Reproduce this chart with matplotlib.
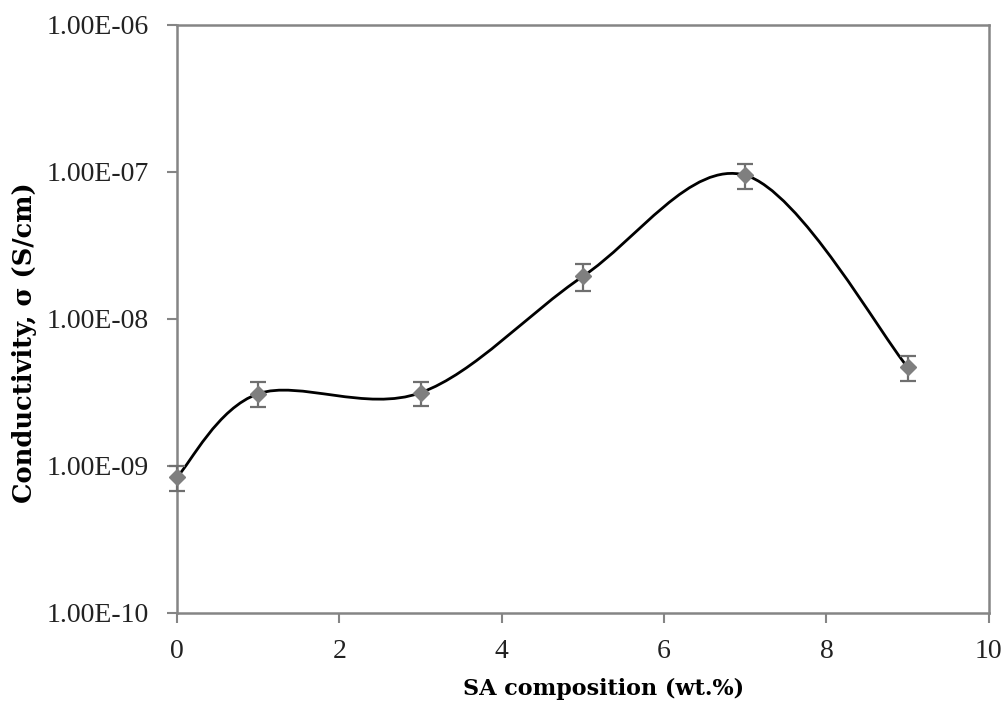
import numpy as np
import matplotlib.pyplot as plt
from matplotlib.path import Path
from matplotlib.patches import PathPatch
from matplotlib.ticker import FixedLocator, FuncFormatter

# data
sa_wt = [0, 1, 3, 5, 7, 9]
sigma = [8.4e-10, 3.1e-9, 3.15e-9, 1.95e-8, 9.5e-8, 4.7e-9]
sigma_err = [1.6e-10, 0.6e-9, 0.6e-9, 4.0e-9, 1.8e-8, 0.9e-9]

x_ticks = [0, 2, 4, 6, 8, 10]
y_ticks = [1e-10, 1e-9, 1e-8, 1e-7, 1e-6]

plt.rcParams['font.family'] = ['Liberation Serif', 'DejaVu Serif']


def smooth_path(xs, ys):
    """Excel-style smoothed line: Catmull-Rom Bezier built in (x, log y)."""
    lx = np.array(xs, dtype=float)
    ly = np.log10(np.array(ys, dtype=float))
    n = len(lx)
    verts = [(lx[0], ly[0])]
    codes = [Path.MOVETO]
    for i in range(n - 1):
        p0 = np.array([lx[max(i - 1, 0)], ly[max(i - 1, 0)]])
        p1 = np.array([lx[i], ly[i]])
        p2 = np.array([lx[i + 1], ly[i + 1]])
        p3 = np.array([lx[min(i + 2, n - 1)], ly[min(i + 2, n - 1)]])
        c1 = p1 + (p2 - p0) / 6.0
        c2 = p2 - (p3 - p1) / 6.0
        verts += [tuple(c1), tuple(c2), tuple(p2)]
        codes += [Path.CURVE4] * 3
    verts = [(vx, 10 ** vy) for vx, vy in verts]
    return Path(verts, codes)


fig = plt.figure(figsize=(10.08, 7.02), dpi=100)
ax = fig.add_axes([0.1756, 0.1268, 0.8054, 0.8376])

ax.set_yscale('log')
ax.set_xlim(0, 10)
ax.set_ylim(1e-10, 1e-6)

ax.add_patch(PathPatch(smooth_path(sa_wt, sigma), facecolor='none',
                       edgecolor='black', lw=2.0, zorder=3))
ax.errorbar(sa_wt, sigma, yerr=sigma_err, fmt='D', color='#7f7f7f',
            ecolor='#6f6f6f', elinewidth=1.6, capsize=6, capthick=1.6,
            markersize=8, zorder=4, clip_on=False)

ax.xaxis.set_major_locator(FixedLocator(x_ticks))
ax.yaxis.set_major_locator(FixedLocator(y_ticks))
ax.yaxis.set_minor_locator(FixedLocator([]))
ax.yaxis.set_major_formatter(FuncFormatter(lambda v, p: f"{v:.2E}"))

for s in ax.spines.values():
    s.set_color('#858585')
    s.set_linewidth(1.8)
ax.tick_params(axis='both', direction='out', length=7, width=1.5,
               color='#858585', labelsize=20, labelcolor='#222222')
ax.tick_params(axis='x', pad=12)
ax.tick_params(axis='y', pad=13)

ax.set_xlabel('SA composition (wt.%)', fontsize=16, fontweight='bold',
              family='DejaVu Serif')
ax.set_ylabel('Conductivity, σ (S/cm)', fontsize=18.5, fontweight='bold',
              family='DejaVu Serif')
ax.xaxis.set_label_coords(0.526, -0.11)
ax.yaxis.set_label_coords(-0.172, 0.459)

fig.savefig('out.png', dpi=100)
